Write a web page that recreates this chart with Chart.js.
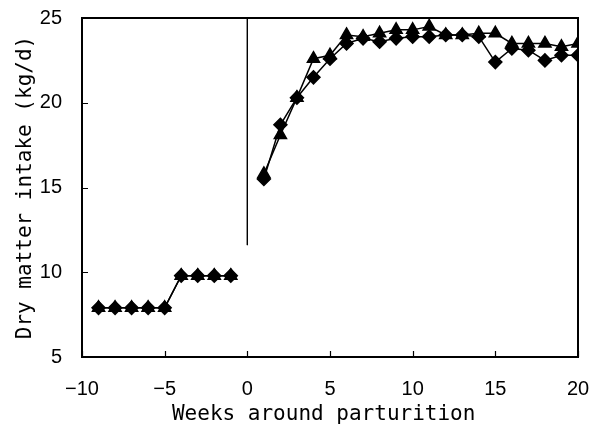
<!DOCTYPE html>
<html>
<head>
<meta charset="utf-8">
<script src="https://cdn.jsdelivr.net/npm/chart.js@4/dist/chart.umd.min.js"></script>
<style>
  html, body { margin: 0; padding: 0; background: #fff; }
  #wrap { width: 598px; height: 426px; }
</style>
</head>
<body>
<div id="wrap"><canvas id="dmiChart"></canvas></div>
<script>
// weeks around parturition (0 = calving, no value)
const weeks = [-9, -8, -7, -6, -5, -4, -3, -2, -1, 0,
    1, 2, 3, 4, 5, 6, 7, 8, 9, 10, 11, 12, 13, 14, 15, 16, 17, 18, 19, 20];

// dry matter intake (kg/d), diamonds
const diamondDmi = [7.9, 7.9, 7.9, 7.9, 7.9, 9.8, 9.8, 9.8, 9.8, null,
    15.5, 18.7, 20.3, 21.5, 22.6, 23.5, 23.8, 23.6, 23.8, 23.9, 23.9, 24.0, 24.0, 23.9, 22.4, 23.2, 23.1, 22.5, 22.8, 22.8];

// dry matter intake (kg/d), triangles
const triangleDmi = [7.9, 7.9, 7.9, 7.9, 7.9, 9.8, 9.8, 9.8, 9.8, null,
    15.8, 18.1, 20.3, 22.6, 22.8, 24.0, 23.9, 24.1, 24.3, 24.3, 24.5, 24.0, 24.0, 24.1, 24.1, 23.5, 23.5, 23.5, 23.3, 23.5];

// calving marker line
const calvingX = [0, 0];
const calvingY = [25, 11.6];

const xTicks = [-10, -5, 0, 5, 10, 15, 20];
const yTicks = [5, 10, 15, 20, 25];

const toPoints = (xs, ys) => xs.map((x, i) => ({ x: x, y: ys[i] }));

const tickFont = '"Liberation Sans Narrow", "Liberation Sans", Arial, sans-serif';
const titleFont = '"DejaVu Sans Mono", "Liberation Mono", monospace';

// box around the plot and inward tick marks
const framePlugin = {
    id: 'frame',
    afterDraw(chart) {
        const ctx = chart.ctx;
        const a = chart.chartArea;
        const xs = chart.scales.x;
        const ys = chart.scales.y;
        ctx.save();
        ctx.strokeStyle = '#000';
        ctx.lineWidth = 2;
        ctx.strokeRect(a.left, a.top, a.right - a.left, a.bottom - a.top);
        ctx.lineWidth = 1.2;
        ctx.beginPath();
        xTicks.forEach(v => {
            const px = Math.round(xs.getPixelForValue(v)) + 0.5;
            ctx.moveTo(px, a.bottom);
            ctx.lineTo(px, a.bottom - 6);
        });
        yTicks.forEach(v => {
            const py = Math.round(ys.getPixelForValue(v)) + 0.5;
            ctx.moveTo(a.left, py);
            ctx.lineTo(a.left + 6, py);
        });
        ctx.stroke();
        ctx.restore();
    }
};

new Chart(document.getElementById('dmiChart'), {
    type: 'line',
    data: {
        datasets: [{
            label: 'Triangle',
            data: toPoints(weeks, triangleDmi),
            borderColor: '#000',
            backgroundColor: '#000',
            borderWidth: 1.5,
            pointStyle: 'triangle',
            pointRadius: 7,
            spanGaps: false,
            tension: 0
        }, {
            label: 'Diamond',
            data: toPoints(weeks, diamondDmi),
            borderColor: '#000',
            backgroundColor: '#000',
            borderWidth: 1.5,
            pointStyle: 'rectRot',
            pointRadius: 6.5,
            spanGaps: false,
            tension: 0
        }, {
            label: 'Calving',
            data: toPoints(calvingX, calvingY),
            borderColor: '#000',
            borderWidth: 1,
            pointRadius: 0
        }]
    },
    options: {
        responsive: true,
        maintainAspectRatio: false,
        animation: false,
        layout: { padding: { top: 18, right: 20, left: 0, bottom: 0 } },
        plugins: {
            legend: { display: false },
            tooltip: { enabled: false }
        },
        scales: {
            x: {
                type: 'linear',
                min: -10,
                max: 20,
                afterFit: s => {
                    s.height = 69;
                    s.paddingLeft = 0;
                    s.paddingRight = 0;
                },
                grid: { display: false, drawTicks: false },
                border: { display: false },
                ticks: {
                    stepSize: 5,
                    padding: 20,
                    color: '#000',
                    font: { family: tickFont, size: 20 },
                    callback: v => String(v).replace('-', '\u2212')
                },
                title: {
                    display: true,
                    text: 'Weeks around parturition ',
                    color: '#000',
                    font: { family: titleFont, size: 21, lineHeight: 1 },
                    padding: { top: 0, bottom: 0.5 }
                }
            },
            y: {
                min: 5,
                max: 25,
                afterFit: s => {
                    s.width = 82;
                    s.paddingTop = 0;
                    s.paddingBottom = 0;
                },
                grid: { display: false, drawTicks: false },
                border: { display: false },
                ticks: {
                    stepSize: 5,
                    padding: 20,
                    color: '#000',
                    font: { family: tickFont, size: 20 }
                },
                title: {
                    display: true,
                    text: 'Dry matter intake (kg/d)',
                    color: '#000',
                    font: { family: titleFont, size: 21, lineHeight: 1 },
                    padding: { top: 15.5, bottom: 0 }
                }
            }
        }
    },
    plugins: [framePlugin]
});
</script>
</body>
</html>
